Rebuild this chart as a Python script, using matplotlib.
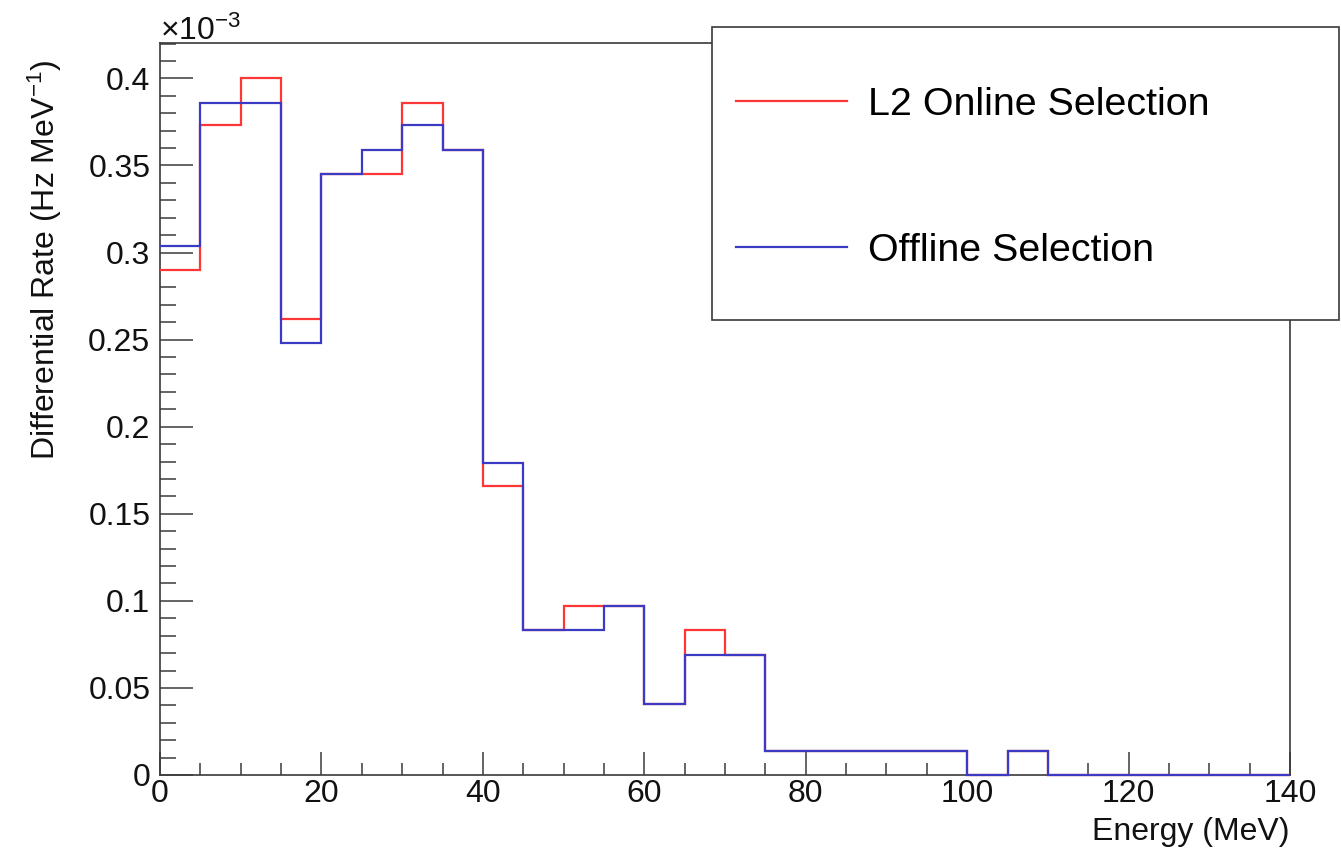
import numpy as np
import matplotlib
matplotlib.use("Agg")
import matplotlib.pyplot as plt
from matplotlib.patches import Rectangle
from matplotlib.lines import Line2D
from matplotlib.ticker import MultipleLocator, FuncFormatter

plt.rcParams['font.family'] = ['Liberation Sans', 'DejaVu Sans']
plt.rcParams['mathtext.fontset'] = 'custom'
plt.rcParams['mathtext.rm'] = 'Liberation Sans'
plt.rcParams['mathtext.it'] = 'Liberation Sans:italic'
plt.rcParams['mathtext.bf'] = 'Liberation Sans:bold'

# ---- data (differential rate in units of 1e-3 Hz/MeV), 5 MeV bins from 0 to 140 MeV ----
bin_edges = np.arange(0, 145, 5)
online_rate = [0.290, 0.373, 0.400, 0.262, 0.345, 0.345, 0.386, 0.359,
               0.166, 0.083, 0.097, 0.097, 0.041, 0.083, 0.069,
               0.014, 0.014, 0.014, 0.014, 0.014, 0.0, 0.014,
               0.0, 0.0, 0.0, 0.0, 0.0, 0.0]
offline_rate = [0.304, 0.386, 0.386, 0.248, 0.345, 0.359, 0.373, 0.359,
                0.179, 0.083, 0.083, 0.097, 0.041, 0.069, 0.069,
                0.014, 0.014, 0.014, 0.014, 0.014, 0.0, 0.014,
                0.0, 0.0, 0.0, 0.0, 0.0, 0.0]
series_labels = ["L2 Online Selection", "Offline Selection"]
x_label = "Energy (MeV)"
y_label = "Differential Rate (Hz MeV$^{-1}$)"

W, H = 1341, 851
fig = plt.figure(figsize=(W / 100, H / 100), dpi=100)
ax = fig.add_axes([160 / W, (H - 775) / H, 1130 / W, 732 / H])

c_red = '#ff3636'
c_blue = '#3a3ac4'
ax.stairs(online_rate, bin_edges, baseline=None, color=c_red, lw=1.6, zorder=3, clip_on=False)
ax.stairs(offline_rate, bin_edges, baseline=None, color=c_blue, lw=1.6, zorder=3.1, clip_on=False)

ax.set_xlim(0, 140)
ax.set_ylim(0, 0.4203)

axc = '#3a3a3a'
for s in ax.spines.values():
    s.set_color(axc)
    s.set_linewidth(1.2)

ax.xaxis.set_major_locator(MultipleLocator(20))
ax.xaxis.set_minor_locator(MultipleLocator(5))
ax.yaxis.set_major_locator(MultipleLocator(0.05))
ax.yaxis.set_minor_locator(MultipleLocator(0.01))
ax.yaxis.set_major_formatter(FuncFormatter(lambda v, p: ('%g' % round(v, 3))))

ax.tick_params(axis='both', which='both', direction='in', colors=axc, labelcolor='#111111',
               top=False, right=False, labelsize=23)
ax.tick_params(axis='y', which='major', length=23.8, width=1.1, pad=7)
ax.tick_params(axis='y', which='minor', length=11.5, width=1.1)
ax.tick_params(axis='x', which='major', length=16.5, width=1.1, pad=3)
ax.tick_params(axis='x', which='minor', length=8.4, width=1.1)

ax.set_xlabel(x_label, fontsize=23, loc='right', color='#111111')
ax.xaxis.set_label_coords(1.0, -0.058)
ax.set_ylabel(y_label, fontsize=23, loc='top', color='#111111')
ax.yaxis.set_label_coords(-0.085, 0.977)

ax.text(0.0, 1.004, r"$\times$10$^{-3}$", transform=ax.transAxes, fontsize=23,
        ha='left', va='baseline', color='#111111')

# legend frame
fig.patches.append(Rectangle((712 / W, (H - 320) / H), (1339 - 712) / W, (320 - 27) / H,
                             transform=fig.transFigure, facecolor='white', edgecolor=axc,
                             lw=1.2, zorder=1))
handles = [Line2D([], [], color=c_red, lw=1.6), Line2D([], [], color=c_blue, lw=1.6)]
fig.legend(handles, series_labels, loc='upper left', bbox_to_anchor=(736 / W, 1 - 87 / H),
           bbox_transform=fig.transFigure, frameon=False, fontsize=28.4,
           borderpad=0, borderaxespad=0, handlelength=2.82, handletextpad=0.53,
           labelspacing=2.79)

fig.savefig("out.png", dpi=100)
